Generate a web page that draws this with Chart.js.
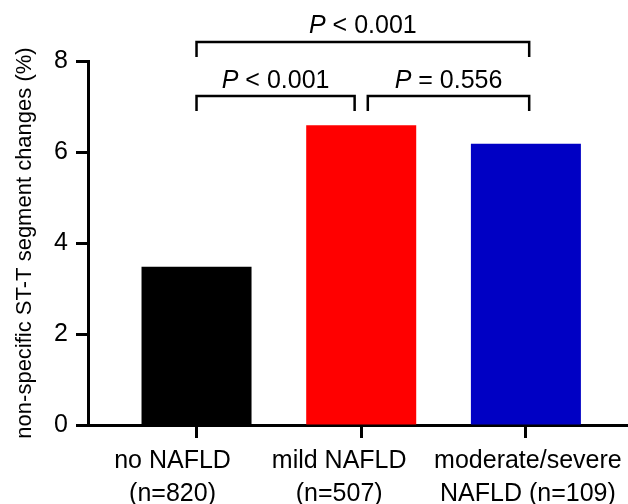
<!DOCTYPE html>
<html>
<head>
<meta charset="utf-8">
<script src="https://cdn.jsdelivr.net/npm/chart.js@4.4.0/dist/chart.umd.min.js"></script>
<style>
  html, body { margin: 0; padding: 0; background: #fff; }
  #wrap { width: 628px; height: 504px; }
</style>
</head>
<body>
<div id="wrap"><canvas id="barChart" width="628" height="504"></canvas></div>
<script>
// datos del grafico
const grupos = [['no NAFLD', '(n=820)'], ['mild NAFLD', '(n=507)'], ['moderate/severe', 'NAFLD (n=109)']];
const posiciones = [0, 1, 2];
const porcentajes = [3.48, 6.59, 6.18];
const colores = ['#000000', '#FF0000', '#0000C4'];
const yTicks = [0, 2, 4, 6, 8];

// comparaciones: desde, hasta, altura linea, altura patas, altura texto, texto
const compDesde = [0, 1.04, 0];
const compHasta = [0.96, 2.02, 2.02];
const compLinea = [7.23, 7.23, 8.42];
const compPata = [6.9, 6.9, 8.09];
const compTexto = [7.56, 7.56, 8.76];
const compP = ['< 0.001', '= 0.556', '< 0.001'];

const fuente = '"Liberation Sans", Arial, Helvetica, sans-serif';
// desplazamiento horizontal de las etiquetas (como en el original)
const desplazEtiqueta = [-24, -22, 2];

const bracketPlugin = {
    id: 'brackets',
    afterDraw(chart) {
        const ctx = chart.ctx;
        const x = chart.scales.x;
        const y = chart.scales.y;
        ctx.save();
        ctx.strokeStyle = '#000';
        ctx.lineWidth = 2.5;
        ctx.lineCap = 'butt';
        for (let i = 0; i < compDesde.length; i++) {
            const x1 = x.getPixelForValue(compDesde[i]);
            const x2 = x.getPixelForValue(compHasta[i]);
            const yl = y.getPixelForValue(compLinea[i]);
            const yp = y.getPixelForValue(compPata[i]);
            ctx.beginPath();
            ctx.moveTo(x1, yp);
            ctx.lineTo(x1, yl);
            ctx.lineTo(x2, yl);
            ctx.lineTo(x2, yp);
            ctx.stroke();

            // texto con P en cursiva
            const yt = y.getPixelForValue(compTexto[i]);
            const cx = (x1 + x2) / 2;
            ctx.fillStyle = '#000';
            ctx.textBaseline = 'middle';
            ctx.font = 'italic 25px ' + fuente;
            const wP = ctx.measureText('P').width;
            ctx.font = '25px ' + fuente;
            const resto = ' ' + compP[i];
            const wR = ctx.measureText(resto).width;
            const x0 = cx - (wP + wR) / 2;
            ctx.textAlign = 'left';
            ctx.font = 'italic 25px ' + fuente;
            ctx.fillText('P', x0, yt);
            ctx.font = '25px ' + fuente;
            ctx.fillText(resto, x0 + wP, yt);
        }

        // etiquetas de categorias
        ctx.font = '25px ' + fuente;
        ctx.textAlign = 'center';
        ctx.textBaseline = 'alphabetic';
        const base = chart.chartArea.bottom;
        posiciones.forEach((p, i) => {
            const cx = x.getPixelForValue(p) + desplazEtiqueta[i];
            ctx.fillText(grupos[i][0], cx, base + 43);
            ctx.fillText(grupos[i][1], cx, base + 76);
        });
        ctx.restore();
    }
};

const chart1 = new Chart(document.getElementById('barChart'), {
    type: 'bar',
    data: {
        datasets: [{
            data: posiciones.map((p, i) => ({ x: p, y: porcentajes[i] })),
            backgroundColor: colores,
            borderWidth: 0,
            barPercentage: 1,
            categoryPercentage: 0.668
        }]
    },
    options: {
        responsive: false,
        animation: false,
        layout: { padding: { top: 61, right: 0, left: 0, bottom: 0 } },
        plugins: {
            legend: { display: false },
            tooltip: { enabled: false }
        },
        scales: {
            x: {
                type: 'linear',
                min: -0.659,
                max: 2.62,
                offset: false,
                afterBuildTicks: (scale) => {
                    scale.ticks = posiciones.map(v => ({ value: v }));
                },
                afterFit: (scale) => { scale.height = 79; },
                ticks: { display: false },
                grid: {
                    offset: false,
                    drawOnChartArea: false,
                    drawTicks: true,
                    tickLength: 13,
                    tickWidth: 3,
                    color: '#000'
                },
                border: { display: true, width: 3, color: '#000' }
            },
            y: {
                min: 0,
                max: 8,
                afterBuildTicks: (scale) => {
                    scale.ticks = yTicks.map(v => ({ value: v }));
                },
                afterFit: (scale) => { scale.width = 88; },
                ticks: {
                    color: '#000',
                    padding: 8,
                    font: { family: fuente, size: 25 }
                },
                grid: {
                    drawOnChartArea: false,
                    drawTicks: true,
                    tickLength: 12,
                    tickWidth: 3,
                    color: '#000'
                },
                border: { display: true, width: 3, color: '#000' },
                title: {
                    display: true,
                    text: 'non-specific ST-T segment changes (%)',
                    color: '#000',
                    padding: { top: 12, bottom: 0 },
                    font: { family: fuente, size: 22 }
                }
            }
        }
    },
    plugins: [bracketPlugin]
});
</script>
</body>
</html>
